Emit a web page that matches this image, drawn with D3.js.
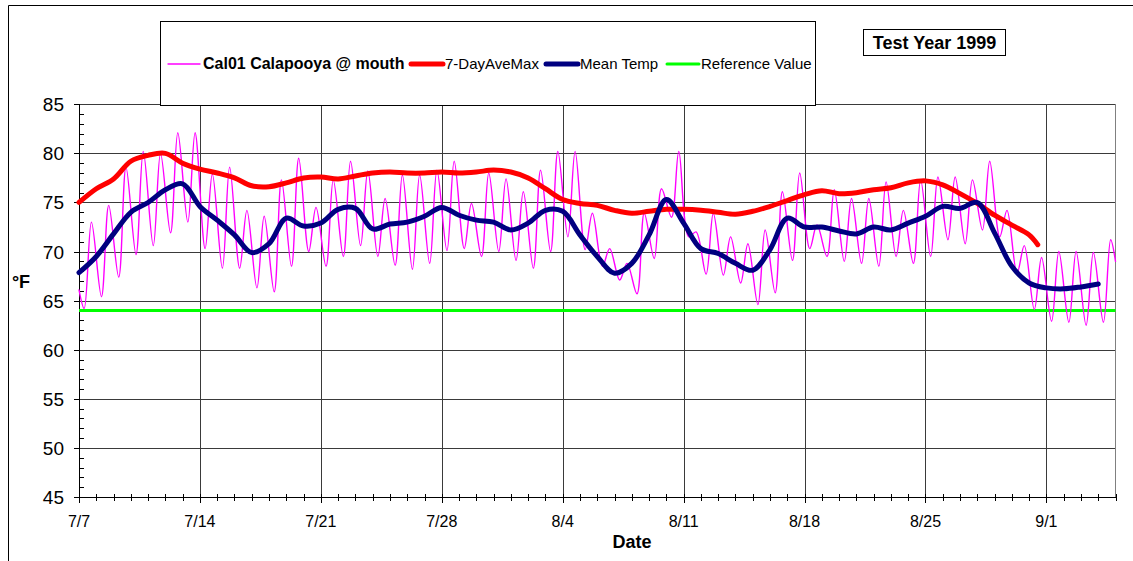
<!DOCTYPE html>
<html lang="en">
<head>
    <meta charset="utf-8" />
    <title>Cal01 Calapooya @ mouth - Test Year 1999</title>
    <style>
        body {
            margin: 0;
            background-color: white;
            font-family: 'Liberation Sans', Arial, sans-serif;
        }

        .grid line {
            stroke: #3a3a3a;
            stroke-width: 1px;
            shape-rendering: crispEdges;
        }

        .ticks line {
            stroke: black;
            stroke-width: 1px;
            shape-rendering: crispEdges;
        }

        text.tick-label {
            fill: black;
        }

        path.series {
            fill: none;
            stroke-linejoin: round;
            stroke-linecap: round;
        }
    </style>
    <script src="https://d3js.org/d3.v7.min.js"></script>
</head>
<body>
    <svg id="vis" width="1133" height="561"></svg>
    <script type="text/javascript">
        // day offsets from 7/7/1999
        var startDate = new Date(1999, 6, 7);
        var endDate = new Date(1999, 8, 5);

        // hourly trace, read as daily low / high
        var dailyMin = [64.2, 65.4, 67.4, 69.7, 70.6, 71.9, 73.0, 70.3, 68.3, 68.3, 66.3, 65.9,
            68.5, 70.0, 68.5, 69.5, 70.6, 69.5, 68.6, 68.2, 68.8, 70.1, 70.3, 69.5,
            70.0, 69.1, 68.3, 70.0, 71.5, 70.2, 68.5, 67.1, 65.7, 69.3, 73.5, 71.5,
            67.7, 67.6, 66.8, 64.6, 65.8, 69.1, 70.3, 69.5, 69.0, 68.8, 68.5, 69.5, 68.8,
            69.5, 71.2, 70.8, 72.2, 71.5, 67.8, 64.1, 62.9, 62.8, 62.5, 62.8];
        var dailyMax = [73.0, 74.7, 78.6, 80.2, 80.0, 82.1, 82.1, 77.9, 78.6, 74.2, 73.6, 77.3,
            79.5, 74.5, 77.3, 79.2, 78.2, 75.4, 77.8, 77.8, 78.3, 79.2, 74.9, 78.0,
            77.4, 76.1, 78.3, 80.2, 80.2, 73.9, 70.3, 68.8, 73.9, 76.4, 80.2, 72.0,
            73.9, 71.5, 70.8, 72.2, 76.1, 78.0, 72.7, 76.3, 75.4, 75.4, 77.1, 74.2, 77.3,
            77.6, 77.6, 77.3, 79.2, 74.2, 70.6, 69.4, 70.0, 70.0, 69.9, 71.2];
        var traceFirst = 66.1;
        var traceLast = 69.0;

        var aveMaxDays = [0, 1, 2, 3, 4, 5, 6, 7, 8, 9, 10, 11, 12, 13, 14, 15, 16, 17, 18, 19,
            20, 21, 22, 23, 24, 25, 26, 27, 28, 29, 30, 31, 32, 33, 34, 35, 36, 37, 38, 39,
            40, 41, 42, 43, 44, 45, 46, 47, 48, 49, 50, 51, 52, 53, 54, 55, 55.5];
        var aveMax = [75.0, 76.4, 77.4, 79.2, 79.8, 80.0, 79.0, 78.4, 78.0, 77.5,
            76.7, 76.6, 77.0, 77.5, 77.6, 77.4, 77.7, 78.0, 78.1, 78.0,
            78.0, 78.1, 78.0, 78.1, 78.3, 78.1, 77.5, 76.4, 75.3, 74.9,
            74.7, 74.2, 73.9, 74.1, 74.3, 74.3, 74.2, 74.0, 73.8, 74.1,
            74.6, 75.2, 75.8, 76.2, 75.9, 76.0, 76.3, 76.5, 77.0, 77.2,
            76.8, 75.9, 74.9, 73.7, 72.7, 71.7, 70.7];

        var meanTemp = [67.85, 69.5, 71.8, 74.0, 75.0, 76.3, 76.9, 74.6, 73.2, 71.7, 69.9, 70.8, 73.4,
            72.6, 72.9, 74.3, 74.4, 72.3, 72.8, 73.0, 73.6, 74.5, 73.7, 73.2,
            73.0, 72.2, 72.9, 74.2, 74.1, 71.7, 69.5, 67.8, 68.8, 71.7, 75.3, 72.9, 70.3,
            69.8, 68.8, 68.1, 70.2, 73.4, 72.5, 72.5, 72.1, 71.8, 72.5, 72.2, 72.9, 73.6,
            74.6, 74.4, 75.0, 71.9, 68.5, 66.8, 66.3, 66.2, 66.4, 66.7];

        var referenceValue = 64;

        var yTicks = [45, 50, 55, 60, 65, 70, 75, 80, 85];
        var legendLabels = ["Cal01 Calapooya @ mouth", "7-DayAveMax", "Mean Temp", "Reference Value"];
        var colors = ["#ff00ff", "#ff0000", "#000080", "#00ff00"];

        function dayToDate(d) { return new Date(startDate.getTime() + d * 864e5); }

        var margin = { left: 79, right: 1115.5, top: 104.3, bottom: 497 };

        var svg = d3.select("#vis");

        var x = d3.scaleTime().domain([startDate, endDate]).range([margin.left, margin.right]);
        var y = d3.scaleLinear().domain([45, 85]).range([margin.bottom, margin.top]);

        // outer chart frame
        svg.append("path").attr("d", "M8.5,561 V5.5 H1133")
            .attr("fill", "none").attr("stroke", "black").attr("stroke-width", 1);

        // grid
        var grid = svg.append("g").attr("class", "grid");
        grid.selectAll("line.h").data(yTicks.filter(function (d) { return d > 45; }))
            .enter().append("line").attr("class", "h")
            .attr("x1", margin.left).attr("x2", margin.right)
            .attr("y1", function (d) { return Math.round(y(d)) + 0.5; })
            .attr("y2", function (d) { return Math.round(y(d)) + 0.5; });

        var weekDays = d3.timeDay.range(startDate, d3.timeDay.offset(endDate, 1), 7);
        grid.selectAll("line.v").data(weekDays.slice(1))
            .enter().append("line").attr("class", "v")
            .attr("x1", function (d) { return Math.round(x(d)) + 0.5; })
            .attr("x2", function (d) { return Math.round(x(d)) + 0.5; })
            .attr("y1", margin.top).attr("y2", margin.bottom);
        grid.append("line").attr("x1", margin.right).attr("x2", margin.right)
            .attr("y1", margin.top).attr("y2", margin.bottom).style("stroke", "#808080");

        // axes
        var ticks = svg.append("g").attr("class", "ticks");
        ticks.append("line").attr("x1", margin.left + 0.5).attr("x2", margin.left + 0.5)
            .attr("y1", margin.top).attr("y2", margin.bottom);
        ticks.append("line").attr("x1", margin.left).attr("x2", margin.right)
            .attr("y1", margin.bottom + 0.5).attr("y2", margin.bottom + 0.5);

        ticks.selectAll("line.ymin").data(d3.range(45, 86))
            .enter().append("line").attr("class", "ymin")
            .attr("x1", margin.left).attr("x2", function (d) { return d % 5 == 0 ? margin.left - 5 : margin.left + 5; })
            .attr("y1", function (d) { return Math.round(y(d)) + 0.5; })
            .attr("y2", function (d) { return Math.round(y(d)) + 0.5; });

        var allDays = d3.timeDay.range(startDate, d3.timeDay.offset(endDate, 1));
        ticks.selectAll("line.xmin").data(allDays)
            .enter().append("line").attr("class", "xmin")
            .attr("x1", function (d) { return Math.round(x(d)) + 0.5; })
            .attr("x2", function (d) { return Math.round(x(d)) + 0.5; })
            .attr("y1", margin.bottom - 3)
            .attr("y2", function (d, i) { return i % 7 == 0 ? margin.bottom + 6 : margin.bottom + 4; });

        svg.append("g").selectAll("text").data(yTicks).enter().append("text")
            .attr("class", "tick-label")
            .attr("x", 64).attr("y", function (d) { return y(d) + 7; })
            .attr("text-anchor", "end").style("font-size", "19px")
            .text(function (d) { return d; });

        var fmt = d3.timeFormat("%-m/%-d");
        svg.append("g").selectAll("text").data(weekDays).enter().append("text")
            .attr("class", "tick-label")
            .attr("x", function (d) { return x(d); }).attr("y", 527)
            .attr("text-anchor", "middle").style("font-size", "16px")
            .text(function (d) { return fmt(d); });

        svg.append("text").attr("x", 21).attr("y", 288).attr("text-anchor", "middle")
            .style("font-size", "18px").style("font-weight", "bold").text("\u00B0F");
        svg.append("text").attr("x", 632).attr("y", 548).attr("text-anchor", "middle")
            .style("font-size", "18px").style("font-weight", "bold").text("Date");

        // series
        var trace = [{ t: 0, v: traceFirst }];
        dailyMin.forEach(function (v, i) {
            trace.push({ t: i + 0.3, v: v });
            trace.push({ t: i + 0.72, v: dailyMax[i] });
        });
        trace.push({ t: 60, v: traceLast });

        var line = d3.line()
            .x(function (d) { return x(dayToDate(d.t)); })
            .y(function (d) { return y(d.v); })
            .curve(d3.curveCatmullRom.alpha(0.5));

        var plot = svg.append("g").attr("class", "plot");

        plot.append("line").attr("x1", margin.left).attr("x2", margin.right)
            .attr("y1", y(referenceValue)).attr("y2", y(referenceValue))
            .attr("stroke", colors[3]).attr("stroke-width", 3);

        plot.append("path").attr("class", "series").datum(trace).attr("d", line)
            .attr("stroke", colors[0]).attr("stroke-width", 1.4);

        plot.append("path").attr("class", "series")
            .datum(aveMax.map(function (v, i) { return { t: aveMaxDays[i], v: v }; }))
            .attr("d", line).attr("stroke", colors[1]).attr("stroke-width", 5);

        plot.append("path").attr("class", "series")
            .datum(meanTemp.map(function (v, i) { return { t: i, v: v }; }))
            .attr("d", line).attr("stroke", colors[2]).attr("stroke-width", 5);

        // legend
        var legend = svg.append("g").attr("class", "legend");
        legend.append("rect").attr("x", 160.5).attr("y", 21.5).attr("width", 655).attr("height", 84)
            .attr("fill", "white").attr("stroke", "black").attr("stroke-width", 1);

        var legendX = [168, 411, 546, 667];
        var legendW = [1.4, 5, 5, 3];
        var items = legend.selectAll("g.item").data(legendLabels).enter().append("g").attr("class", "item")
            .attr("transform", function (d, i) { return "translate(" + legendX[i] + ", 64)"; });
        items.append("line").attr("x1", 0).attr("x2", 32).attr("y1", 0).attr("y2", 0)
            .attr("stroke", function (d, i) { return colors[i]; })
            .attr("stroke-width", function (d, i) { return legendW[i]; })
            .attr("stroke-linecap", "round");
        items.append("text").attr("x", function (d, i) { return i == 0 ? 35 : 34; }).attr("y", 5)
            .style("font-size", function (d, i) { return i == 0 ? "16px" : "15px"; })
            .style("font-weight", function (d, i) { return i == 0 ? "bold" : "normal"; })
            .text(function (d) { return d; });

        // year box
        svg.append("rect").attr("x", 863.5).attr("y", 29.5).attr("width", 142).attr("height", 26)
            .attr("fill", "white").attr("stroke", "black").attr("stroke-width", 1);
        svg.append("text").attr("x", 934.5).attr("y", 49).attr("text-anchor", "middle")
            .style("font-size", "18px").style("font-weight", "bold").text("Test Year 1999");
    </script>
</body>
</html>
